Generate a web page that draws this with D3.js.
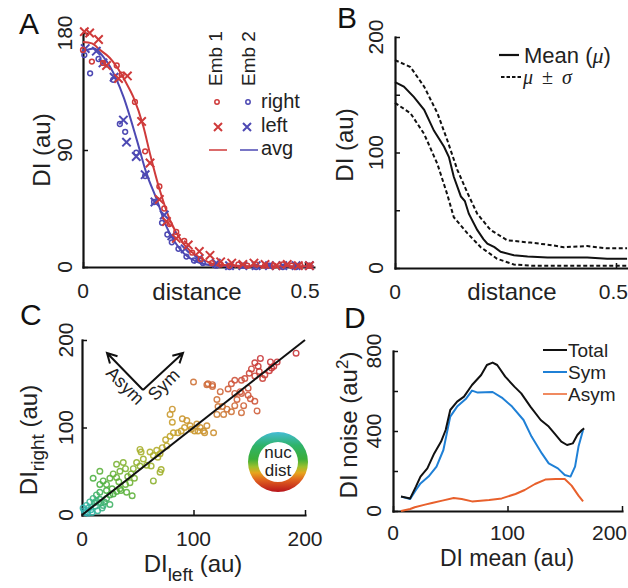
<!DOCTYPE html>
<html><head><meta charset="utf-8">
<script src="https://cdn.jsdelivr.net/npm/d3@7"></script>
<style>body{margin:0;background:#fff}svg{display:block}text{font-family:"Liberation Sans",Arial,Helvetica,sans-serif}</style>
</head><body><svg id="c" width="628" height="588"></svg>
<script>
// ---------- Panel A data ----------
const aEmb1RightX = [0.000,0.020,0.045,0.076,0.087,0.117,0.140,0.172,0.183,0.195,0.210,0.228,0.246,0.265,0.290,0.310,0.330,0.350,0.370,0.390,0.410,0.430,0.450,0.470,0.490,0.510];
const aEmb1RightY = [167,158,157,155,148,127,89,62,45,33,27,20,11,6,3,2,1,2,1,2,1,1,2,1,1,1];
const aEmb1LeftX  = [0.003,0.015,0.035,0.053,0.080,0.100,0.132,0.151,0.172,0.188,0.210,0.237,0.262,0.286,0.310,0.335,0.360,0.385,0.410,0.435,0.460,0.485,0.510];
const aEmb1LeftY  = [181,180,175,155,145,147,112,80,52,35,22,17,12,9,4,3,2,3,2,1,2,1,1];
const aEmb2RightX = [0.003,0.016,0.035,0.068,0.083,0.095,0.120,0.140,0.160,0.178,0.190,0.200,0.215,0.233,0.250,0.270,0.300,0.330,0.360,0.390,0.420,0.450,0.480,0.510];
const aEmb2RightY = [163,149,160,144,110,104,88,70,50,34,25,19,14,8,5,3,1,0,1,0,1,0,0,1];
const aEmb2LeftX  = [0.005,0.030,0.045,0.070,0.091,0.098,0.120,0.140,0.162,0.183,0.200,0.230,0.260,0.300,0.330,0.360,0.390,0.420,0.450,0.480,0.510];
const aEmb2LeftY  = [168,166,157,146,113,96,85,71,50,40,24,14,6,3,1,1,1,1,1,1,1];
const aEmb1AvgX = [0,0.02,0.038,0.06,0.076,0.095,0.113,0.136,0.151,0.173,0.196,0.226,0.264,0.3,0.35,0.4,0.45,0.5,0.52];
const aEmb1AvgY = [173,172,167,161,154,143,131,108,87,59,36,18,7,2,1,0.5,0.5,0.5,0.5];
const aEmb2AvgX = [0,0.025,0.045,0.061,0.091,0.121,0.143,0.166,0.188,0.218,0.256,0.3,0.35,0.4,0.5,0.52];
const aEmb2AvgY = [166,168,162,154,131,98,72,52,31,14,4,1,0.5,0.3,0.3,0.3];
const aYTicks = [0,90,180];
const aXTicks = [0,0.5];

// ---------- Panel B data ----------
const bMeanX = [0,0.02,0.043,0.066,0.088,0.111,0.122,0.133,0.149,0.158,0.167,0.186,0.2,0.209,0.225,0.239,0.269,0.3,0.345,0.39,0.435,0.48,0.525];
const bMeanY = [161,157,148,137,119,105,96,79,62,58,47,33,25,21,18,14,11,10,9,9,9,8,8];
const bUpX = [0,0.035,0.066,0.096,0.118,0.141,0.164,0.186,0.216,0.254,0.306,0.35,0.382,0.435,0.48,0.525];
const bUpY = [180,174,157,134,111,85,65,47,33,24,22,20,18,19,17,17];
const bLoX = [0,0.035,0.066,0.096,0.118,0.133,0.164,0.194,0.231,0.269,0.31,0.35,0.4,0.45,0.525];
const bLoY = [143,134,116,90,64,44,30,18,8,3,2,2,2,2,2];
const bYTicks = [0,50,100,150,200];
const bYLabels = [0,100,200];

// ---------- Panel C data (DI left, DI right) ----------
const cLeft  = [192,160,169,170,172,155,152,164,159,155,162,149,146,143,137,142,137,134,131,121,122,121,117,124,113,100,143,149,155,157,137,143,134,139,126,127,130,145,151,112,117,175,168,158,150,
118,109,106,103,112,101,94,97,92,89,86,82,81,79,75,76,72,67,70,64,68,61,55,62,58,52,49,46,44,64,71,70,52,53,81,79,90,98,104,110,
37,39,34,28,31,25,19,16,22,16,10,31,39,43,34,31,40,45,25,22,16,16,13,10,25,19,7,4,1,12,8,14,18,3,5,6,9,2,11,20,27,33,41,47,35,28,22,17,13];
const cRight = [185,179,175,168,170,174,167,160,164,159,156,145,156,154,154,141,139,150,144,132,124,115,147,141,150,152,139,137,130,119,125,117,118,132,124,115,121,125,133,149,149,175,165,170,162,
94,96,100,104,102,96,108,102,100,96,94,94,106,90,86,79,77,74,70,68,66,72,64,56,57,56,60,53,47,39,52,49,75,72,121,115,110,98,96,94,
60,53,50,47,43,42,39,35,35,50,42,58,35,37,30,27,26,22,23,19,18,26,23,19,12,11,15,11,8,10,6,5,8,3,2,8,3,5,14,15,30,38,44,42,28,24,28,14,16];
const cColorVals = [0,12,25,45,65,90,115,140,170];
const cColors = ["#2fb5c4","#3bb58a","#49b043","#7cb234","#adb02c","#c9a22c","#cd8635","#cf5a3b","#c9363a"];
const cTicks = [0,100,200];

// ---------- Panel D data ----------
const dTotalX = [7,15,20,24,30,36,42,46,50,56,62,69,77,82,87,91,98,106,112,120,129,136,141,147,152,157,161,165,167];
const dTotalY = [72,63,122,172,213,288,347,405,505,547,572,630,680,730,742,730,672,622,588,522,455,422,388,347,330,338,380,405,413];
const dSymX = [7,15,20,24,31,38,44,47,50,56,64,69,74,87,95,104,114,121,130,136,144,150,155,159,162,166];
const dSymY = [72,60,105,138,172,222,305,388,472,522,563,602,592,595,567,522,455,372,288,238,213,180,172,222,322,405];
const dAsymX = [7,15,19,28,34,43,53,60,69,84,95,107,115,124,133,142,150,156,162,166];
const dAsymY = [0,10,19,32,40,52,65,60,48,55,63,85,105,135,157,160,160,127,77,48];
const dXTicks = [0,100,200];
const dYTicks = [0,200,400,600,800];
const dYLabels = [0,400,800];

// ---------- drawing ----------
const INK = "#222";
const svg = d3.select("#c");
svg.append("rect").attr("width",628).attr("height",588).attr("fill","#fff");

function frame(x, y, xt, yt, xl, yl, yOff, lastAnchorEnd, xLabOff) {
  const x0 = x.range()[0], y0 = y.range()[0];
  const ga = svg.append("g").attr("transform",`translate(${x0},0)`)
    .call(d3.axisLeft(y).tickValues(yt).tickSizeInner(-5).tickSizeOuter(0).tickFormat(""));
  const gb = svg.append("g").attr("transform",`translate(0,${y0})`)
    .call(d3.axisBottom(x).tickValues(xt).tickSizeInner(-5).tickSizeOuter(0).tickFormat(""));
  [ga,gb].forEach(g => {
    g.select(".domain").attr("stroke","#111").attr("stroke-width",2.2).attr("stroke-linecap","square");
    g.selectAll(".tick line").attr("stroke","#111").attr("stroke-width",1.5);
  });
  yl.forEach(v => {
    svg.append("text").attr("transform",`translate(${x0-yOff},${y(v)}) rotate(-90)`)
      .attr("text-anchor","middle").attr("font-size",21).attr("fill",INK).text(v);
  });
  xl.forEach((v,i) => {
    const t = svg.append("text").attr("x",x(v)).attr("y",y0+(xLabOff||31))
      .attr("text-anchor","middle").attr("font-size",21).attr("fill",INK).text(v);
    if (lastAnchorEnd && i === xl.length-1) t.attr("text-anchor","end").attr("x",lastAnchorEnd);
  });
}
function letter(t, x, y) {
  svg.append("text").attr("x",x).attr("y",y).attr("font-size",30).attr("fill","#111").text(t);
}
function ytitle(x, y, parts) {
  const t = svg.append("text").attr("transform",`translate(${x},${y}) rotate(-90)`)
    .attr("text-anchor","middle").attr("font-size",24).attr("fill",INK);
  parts.forEach(p => { const s = t.append("tspan").text(p.t); if (p.dy) s.attr("dy",p.dy); if (p.fs) s.attr("font-size",p.fs); });
}

// ===== Panel A =====
const xA = d3.scaleLinear([0,0.52],[83,83+0.52*444]);
const yA = d3.scaleLinear([0,180],[267,33]);
const RED = "#cf3a3a", BLUE = "#4d49b3";
frame(xA, yA, aXTicks, aYTicks, aXTicks, aYTicks, 11);
const lineA = d3.line().curve(d3.curveMonotoneX);
svg.append("path").attr("d", lineA(aEmb2AvgX.map((v,i)=>[xA(v),yA(aEmb2AvgY[i])])))
  .attr("fill","none").attr("stroke",BLUE).attr("stroke-width",2);
svg.append("path").attr("d", lineA(aEmb1AvgX.map((v,i)=>[xA(v),yA(aEmb1AvgY[i])])))
  .attr("fill","none").attr("stroke",RED).attr("stroke-width",2);
function circles(xs, ys, sx, sy, col, r) {
  svg.append("g").selectAll("circle").data(xs).join("circle")
    .attr("cx",(d)=>sx(d)).attr("cy",(d,i)=>sy(ys[i])).attr("r",r)
    .attr("fill","none").attr("stroke",col).attr("stroke-width",1.5);
}
function crosses(xs, ys, sx, sy, col, s) {
  svg.append("g").selectAll("path").data(xs).join("path")
    .attr("d",(d,i)=>{const cx=sx(d), cy=sy(ys[i]); return `M${cx-s},${cy-s}L${cx+s},${cy+s}M${cx-s},${cy+s}L${cx+s},${cy-s}`;})
    .attr("stroke",col).attr("stroke-width",2).attr("fill","none");
}
circles(aEmb2RightX, aEmb2RightY, xA, yA, BLUE, 2.4);
crosses(aEmb2LeftX, aEmb2LeftY, xA, yA, BLUE, 4.2);
circles(aEmb1RightX, aEmb1RightY, xA, yA, RED, 2.4);
crosses(aEmb1LeftX, aEmb1LeftY, xA, yA, RED, 4.2);
letter("A", 19, 34);
ytitle(50, 150, [{t:"DI (au)"}]);
svg.append("text").attr("x",197).attr("y",300).attr("text-anchor","middle").attr("font-size",24).attr("fill",INK).text("distance");
// legend A
[["Emb 1",222],["Emb 2",255]].forEach(([t,x]) => {
  svg.append("text").attr("transform",`translate(${x},86) rotate(-90)`).attr("font-size",19).attr("fill",INK).text(t);
});
svg.append("circle").attr("cx",217).attr("cy",102).attr("r",2.2).attr("fill","none").attr("stroke",RED).attr("stroke-width",1.5);
svg.append("circle").attr("cx",248).attr("cy",102).attr("r",2.2).attr("fill","none").attr("stroke",BLUE).attr("stroke-width",1.5);
[[218,RED],[247,BLUE]].forEach(([x,c]) => svg.append("path")
  .attr("d",`M${x-4},${127-4}L${x+4},${127+4}M${x-4},${127+4}L${x+4},${127-4}`).attr("stroke",c).attr("stroke-width",2));
svg.append("line").attr("x1",209).attr("x2",227).attr("y1",150).attr("y2",150).attr("stroke",RED).attr("stroke-width",1.5);
svg.append("line").attr("x1",240).attr("x2",258).attr("y1",150).attr("y2",150).attr("stroke",BLUE).attr("stroke-width",1.5);
[["right",108],["left",132],["avg",155]].forEach(([t,y]) =>
  svg.append("text").attr("x",261).attr("y",y).attr("font-size",20).attr("fill",INK).text(t));

// ===== Panel B =====
const xB = d3.scaleLinear([0,0.525],[395,395+0.525*442]);
const yB = d3.scaleLinear([0,200],[268,37]);
frame(xB, yB, [0,0.5], bYTicks, [0,0.5], bYLabels, 12, 628);
const lineB = d3.line();
svg.append("path").attr("d", lineB(bUpX.map((v,i)=>[xB(v),yB(bUpY[i])]))).attr("fill","none").attr("stroke","#111").attr("stroke-width",2).attr("stroke-dasharray","4,2.5");
svg.append("path").attr("d", lineB(bLoX.map((v,i)=>[xB(v),yB(bLoY[i])]))).attr("fill","none").attr("stroke","#111").attr("stroke-width",2).attr("stroke-dasharray","4,2.5");
svg.append("path").attr("d", lineB(bMeanX.map((v,i)=>[xB(v),yB(bMeanY[i])]))).attr("fill","none").attr("stroke","#111").attr("stroke-width",2);
letter("B", 337, 28);
ytitle(353, 145, [{t:"DI (au)"}]);
svg.append("text").attr("x",512).attr("y",300).attr("text-anchor","middle").attr("font-size",24).attr("fill",INK).text("distance");
svg.append("line").attr("x1",499).attr("x2",519).attr("y1",55).attr("y2",55).attr("stroke","#111").attr("stroke-width",2.2);
svg.append("line").attr("x1",501).attr("x2",521).attr("y1",77).attr("y2",77).attr("stroke","#111").attr("stroke-width",2.2).attr("stroke-dasharray","3.5,2");
const mt = svg.append("text").attr("x",524).attr("y",63).attr("font-size",22).attr("fill",INK);
mt.append("tspan").text("Mean (");
mt.append("tspan").style("font-family","'Liberation Serif', serif").attr("font-style","italic").text("μ");
mt.append("tspan").text(")");
const st = svg.append("text").attr("x",523).attr("y",84).attr("font-size",20).attr("fill",INK).style("font-family","'Liberation Serif', serif");
st.append("tspan").attr("font-style","italic").text("μ");
st.append("tspan").attr("dx",9).text("±");
st.append("tspan").attr("dx",9).attr("font-style","italic").text("σ");

// ===== Panel C =====
const xC = d3.scaleLinear([0,200],[82,305]);
const yC = d3.scaleLinear([0,200],[515,340]);
frame(xC, yC, cTicks, cTicks, cTicks, cTicks, 9);
const colC = d3.scaleLinear(cColorVals, cColors).clamp(true);
svg.append("g").selectAll("circle").data(cLeft).join("circle")
  .attr("cx",d=>xC(d)).attr("cy",(d,i)=>yC(cRight[i])).attr("r",2.8)
  .attr("fill","none").attr("stroke",(d,i)=>colC((d+cRight[i])/2)).attr("stroke-width",1.4).attr("opacity",0.9);
svg.append("line").attr("x1",xC(0)).attr("y1",yC(0)).attr("x2",xC(200)).attr("y2",yC(200)).attr("stroke","#111").attr("stroke-width",2);
letter("C", 20, 325);
ytitle(37, 440, [{t:"DI"},{t:"right",dy:7,fs:19},{t:" (au)",dy:-7}]);
const xt = svg.append("text").attr("x",193).attr("y",572).attr("text-anchor","middle").attr("font-size",24).attr("fill",INK);
xt.append("tspan").text("DI");
xt.append("tspan").attr("dy",9).attr("font-size",19).text("left");
xt.append("tspan").attr("dy",-9).text(" (au)");
// arrows
function arrow(x1,y1,x2,y2) {
  const a = Math.atan2(y2-y1,x2-x1), L=11, sp=0.5;
  svg.append("path").attr("d",`M${x1},${y1}L${x2},${y2}M${x2-L*Math.cos(a-sp)},${y2-L*Math.sin(a-sp)}L${x2},${y2}L${x2-L*Math.cos(a+sp)},${y2-L*Math.sin(a+sp)}`)
    .attr("fill","none").attr("stroke","#111").attr("stroke-width",2);
}
arrow(143,390,107,353);
arrow(143,390,183,353);
svg.append("text").attr("transform","translate(121,390) rotate(45)").attr("text-anchor","middle").attr("font-size",18).attr("fill",INK).text("Asym");
svg.append("text").attr("transform","translate(168,389) rotate(-45)").attr("text-anchor","middle").attr("font-size",18).attr("fill",INK).text("Sym");
// ring
const defs = svg.append("defs");
const grad = defs.append("linearGradient").attr("id","ring").attr("x1",0).attr("y1",0).attr("x2",0).attr("y2",1);
[[0,"#45bcd6"],[0.22,"#2fb36a"],[0.45,"#3aae3a"],[0.58,"#9cc02c"],[0.68,"#e6a51e"],[0.8,"#e0621f"],[1,"#b8141c"]]
  .forEach(([o,c]) => grad.append("stop").attr("offset",o).attr("stop-color",c));
svg.append("path").attr("transform","translate(278,462)")
  .attr("d", d3.arc()({innerRadius:20,outerRadius:30,startAngle:0,endAngle:2*Math.PI}))
  .attr("fill","url(#ring)");
svg.append("text").attr("x",278).attr("y",458).attr("text-anchor","middle").attr("font-size",17).attr("fill",INK).text("nuc");
svg.append("text").attr("x",278).attr("y",476).attr("text-anchor","middle").attr("font-size",17).attr("fill",INK).text("dist");

// ===== Panel D =====
const xD = d3.scaleLinear([0,200],[393,622]);
const yD = d3.scaleLinear([0,800],[511,351]);
frame(xD, yD, dXTicks, dYTicks, dXTicks, dYLabels, 12, 627, 29);
[[dAsymX,dAsymY,"#e8602c"],[dSymX,dSymY,"#1f80d6"],[dTotalX,dTotalY,"#111"]].forEach(([xs,ys,c]) =>
  svg.append("path").attr("d", d3.line()(xs.map((v,i)=>[xD(v),yD(ys[i])]))).attr("fill","none").attr("stroke",c).attr("stroke-width",2).attr("stroke-linejoin","round"));
letter("D", 344, 328);
ytitle(357, 425, [{t:"DI noise (au"},{t:"2",dy:-9,fs:17},{t:")",dy:9}]);
svg.append("text").attr("x",507).attr("y",566).attr("text-anchor","middle").attr("font-size",23).attr("fill",INK).text("DI mean (au)");
[["Total","#111",350],["Sym","#1f80d6",372],["Asym","#f08a60",394]].forEach(([t,c,y]) => {
  svg.append("line").attr("x1",543).attr("x2",567).attr("y1",y).attr("y2",y).attr("stroke",c).attr("stroke-width",2);
  svg.append("text").attr("x",568).attr("y",y+7).attr("font-size",19).attr("fill",INK).text(t);
});
</script></body></html>
